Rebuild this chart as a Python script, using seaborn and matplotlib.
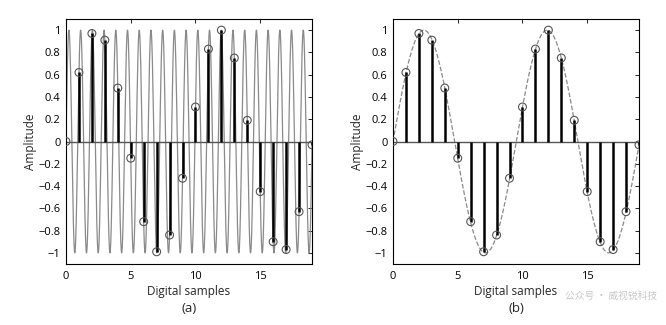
import numpy as np
import pandas as pd
import matplotlib
matplotlib.use("Agg")
import matplotlib.pyplot as plt
import seaborn as sns

# --- data ---
sample_index = list(range(20))
sample_values = [0.0, 0.62, 0.97, 0.91, 0.48, -0.15, -0.72, -0.99, -0.84, -0.33,
                 0.31, 0.83, 1.0, 0.75, 0.19, -0.45, -0.90, -0.97, -0.63, -0.03]
alias_freq = 0.105      # cycles per sample of the dashed curve in (b)
high_freq = 1.105       # cycles per sample of the curve in (a)
y_ticks = [-1, -0.8, -0.6, -0.4, -0.2, 0, 0.2, 0.4, 0.6, 0.8, 1]
y_tick_labels = ["\u22121", "\u22120.8", "\u22120.6", "\u22120.4", "\u22120.2", "0",
                 "0.2", "0.4", "0.6", "0.8", "1"]
x_ticks = [0, 5, 10, 15]
panel_labels = ["(a)", "(b)"]

sns.set_theme(style="white")
plt.rcParams['font.family'] = ['Open Sans', 'DejaVu Sans']

fig = plt.figure(figsize=(6.66, 3.25), dpi=100)
W, H = 666, 325
axes = []
for left in (66, 393):
    ax = fig.add_axes([left / W, 1 - 264 / H, 246 / W, 245 / H])
    axes.append(ax)

t = np.linspace(0, 19, 4000)
curves = [np.sin(2 * np.pi * high_freq * t), np.sin(2 * np.pi * alias_freq * t)]
styles = ["-", "--"]

samples = pd.DataFrame({"n": sample_index, "v": sample_values})

for i, ax in enumerate(axes):
    cdf = pd.DataFrame({"t": t, "y": curves[i]})
    sns.lineplot(data=cdf, x="t", y="y", ax=ax, color="#8a8a8a",
                 linewidth=0.9, linestyle=styles[i], zorder=1)
    ax.axhline(0, color="#555555", linewidth=1.0, zorder=2)
    ax.vlines(samples["n"], 0, samples["v"], color="black", linewidth=1.8, zorder=3)
    sns.scatterplot(data=samples, x="n", y="v", ax=ax, marker="o", s=32,
                    facecolor="none", edgecolor="#555555", linewidth=0.8, zorder=4)
    ax.set_xlim(0, 19)
    ax.set_ylim(-1.1, 1.1)
    ax.set_xticks(x_ticks)
    ax.set_yticks(y_ticks)
    ax.set_yticklabels(y_tick_labels)
    ax.tick_params(direction="in", length=3, width=0.6, top=True, right=True,
                   labelsize=8, colors="black", pad=4)
    ax.tick_params(axis="x", pad=5)
    for sp in ax.spines.values():
        sp.set_color("black")
        sp.set_linewidth(0.8)
    ax.set_xlabel("Digital samples", fontsize=8.5, labelpad=2)
    ax.set_ylabel("Amplitude", fontsize=8.5, labelpad=1)
    ax.text(0.5, -0.155, panel_labels[i], transform=ax.transAxes, ha="center",
            va="top", fontsize=9.5)

fig.text(0.848, 1 - 296 / H, "\u516c\u4f17\u53f7 \u00b7 \u5a01\u89c6\u9510\u79d1\u6280", fontsize=7,
         color="#c8c8c8", family=["Noto Sans CJK SC", "DejaVu Sans"], va="center", ha="left",
         zorder=10)

fig.savefig("out.png", dpi=100)
